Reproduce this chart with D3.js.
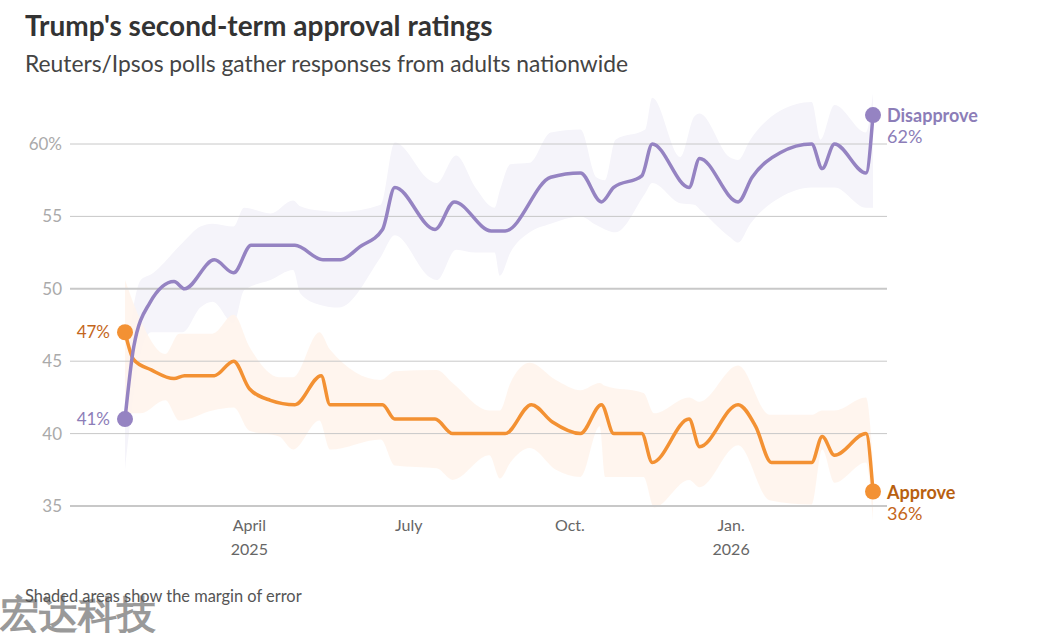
<!DOCTYPE html>
<html>
<head>
<meta charset="utf-8">
<script src="https://cdn.jsdelivr.net/npm/d3@7"></script>
<style>
  body { margin: 0; background: #fff; }
  text { font-family: Lato, "Open Sans", sans-serif; }
</style>
</head>
<body>
<svg id="chart" width="1042" height="633"></svg>
<script>
// Poll values (smoothed line points)
var disapproveDates = ["2025-01-20","2025-01-25","2025-02-03","2025-02-17","2025-02-23","2025-03-12","2025-03-23","2025-04-02","2025-04-27","2025-05-13","2025-05-23","2025-06-03","2025-06-16","2025-06-23","2025-07-16","2025-07-27","2025-08-17","2025-08-25","2025-09-20","2025-10-07","2025-10-19","2025-10-26","2025-11-11","2025-11-17","2025-12-08","2025-12-14","2026-01-05","2026-01-13","2026-01-29","2026-02-16","2026-02-22","2026-03-01","2026-03-19","2026-03-23"];
var disapproveValues = [41,46,49,50.5,50,52,51.1,53,53,52,52,52.9,54.1,57,54.1,56,54,54,57.7,58,56,57,57.8,60,57,59,56,57.7,59.4,60,58.3,60,58,62];

var approveDates = ["2025-01-20","2025-01-25","2025-02-04","2025-02-17","2025-02-23","2025-03-12","2025-03-23","2025-04-01","2025-04-13","2025-04-27","2025-05-12","2025-05-17","2025-06-16","2025-06-23","2025-07-16","2025-07-26","2025-08-25","2025-09-09","2025-09-21","2025-10-07","2025-10-19","2025-10-26","2025-11-11","2025-11-17","2025-12-08","2025-12-14","2026-01-05","2026-01-15","2026-01-24","2026-02-16","2026-02-22","2026-03-01","2026-03-19","2026-03-23"];
var approveValues = [47,45.1,44.4,43.8,44,44,45,43.1,42.3,42,44,42,42,41,41,40,40,42,40.8,40,42,40,40,38,41,39.1,42,40.5,38,38,39.8,38.5,40,36];

// Margin of error bands
var disBandDates = ["2025-01-20","2025-01-29","2025-02-04","2025-02-22","2025-03-04","2025-03-11","2025-03-23","2025-03-29","2025-04-13","2025-04-26","2025-04-30","2025-05-11","2025-05-22","2025-06-15","2025-06-23","2025-07-13","2025-07-17","2025-07-28","2025-08-08","2025-08-19","2025-08-22","2025-08-28","2025-09-08","2025-09-20","2025-10-07","2025-10-16","2025-10-21","2025-10-27","2025-11-13","2025-11-17","2025-12-03","2025-12-11","2025-12-14","2025-12-31","2026-01-05","2026-01-12","2026-01-29","2026-02-16","2026-02-21","2026-03-01","2026-03-19","2026-03-23"];
var disBandLow  = [37.5,45.5,47.0,47.0,48.7,49.1,47.6,49.9,50.6,51.3,49.7,48.9,48.7,52.2,53.7,50.8,50.6,52.7,52.5,52.5,50.9,52.5,53.9,54.5,55.0,54.4,54.1,53.9,56.6,57.3,55.9,55.8,55.5,53.6,53.2,54.5,56.3,57.0,57.0,57.0,55.6,55.6];
var disBandHigh = [44.5,50.6,51.0,53.2,54.3,54.5,54.3,55.6,55.2,56.1,55.7,55.4,55.3,55.8,60.1,57.5,57.3,59.2,57.0,55.6,56.8,58.6,58.7,60.8,61.0,57.7,57.5,60.3,61.0,63.2,59.1,61.9,62.1,59.1,58.9,60.3,62.3,62.9,60.3,62.7,60.8,63.5];

var appBandDates = ["2025-01-20","2025-01-29","2025-02-12","2025-02-20","2025-03-11","2025-03-23","2025-04-01","2025-04-18","2025-04-26","2025-05-11","2025-05-17","2025-06-15","2025-06-23","2025-07-17","2025-07-26","2025-08-16","2025-08-22","2025-08-28","2025-09-08","2025-09-23","2025-10-07","2025-10-18","2025-10-21","2025-11-12","2025-11-18","2025-12-08","2025-12-14","2026-01-05","2026-01-23","2026-02-16","2026-02-22","2026-03-01","2026-03-19","2026-03-23"];
var appBandLow  = [41.4,41.4,42.3,40.9,41.6,41.8,40.2,39.8,38.9,40.9,38.9,39.6,37.8,37.6,36.8,38.5,36.9,38.0,39.0,37.5,37.0,40.5,37.0,37.0,34.9,36.8,36.3,39.2,35.4,35.1,38.9,36.6,38.0,34.0];
var appBandHigh = [50.6,47.8,45.5,46.9,46.9,48.2,46.0,43.9,43.9,47.0,45.8,43.7,44.3,44.4,43.5,41.6,41.6,43.5,44.9,43.7,43.0,43.5,43.3,42.8,41.4,42.5,42.2,44.7,41.3,41.3,41.6,41.6,42.5,38.0];

var yTicks = [35, 40, 45, 50, 55, 60];
var xTicks = [["2025-04-01","April","2025"],["2025-07-01","July",""],["2025-10-01","Oct.",""],["2026-01-01","Jan.","2026"]];

var parse = d3.timeParse("%Y-%m-%d");
var purple = "#9583c2", orange = "#f39133";

var svg = d3.select("#chart");

var x = d3.scaleTime()
    .domain([parse("2025-01-20"), parse("2026-03-23")])
    .range([125, 873]);
var y = d3.scaleLinear()
    .domain([35, 60])
    .range([506, 144]);

function zip(dates, vals) {
    return dates.map(function(d, i) { return { date: parse(d), v: vals[i] }; });
}
function zipBand(dates, lo, hi) {
    return dates.map(function(d, i) { return { date: parse(d), lo: lo[i], hi: hi[i] }; });
}

var dis = zip(disapproveDates, disapproveValues);
var app = zip(approveDates, approveValues);
var disBand = zipBand(disBandDates, disBandLow, disBandHigh);
var appBand = zipBand(appBandDates, appBandLow, appBandHigh);

// Titles
svg.append("text").attr("x", 25).attr("y", 36)
    .attr("font-size", 28).attr("font-weight", 700).attr("fill", "#333")
    .text("Trump's second-term approval ratings");
svg.append("text").attr("x", 25).attr("y", 72)
    .attr("font-size", 22.8).attr("fill", "#444")
    .text("Reuters/Ipsos polls gather responses from adults nationwide");

// Bands
var band = d3.area()
    .x(function(d) { return x(d.date); })
    .y0(function(d) { return y(d.lo); })
    .y1(function(d) { return y(d.hi); })
    .curve(d3.curveMonotoneX);

svg.append("path").datum(disBand).attr("d", band).attr("fill", "#f5f4fa");
svg.append("path").datum(appBand).attr("d", band).attr("fill", "#fff4ec").attr("opacity", 0.9);

// Grid
var grid = svg.append("g");
grid.selectAll("line").data(yTicks).enter().append("line")
    .attr("x1", 70).attr("x2", 887)
    .attr("y1", function(d) { return y(d); })
    .attr("y2", function(d) { return y(d); })
    .attr("stroke", "#c8c8c8")
    .attr("stroke-width", function(d) { return (d === 50 || d === 35) ? 2 : 1; });

grid.selectAll("text").data(yTicks).enter().append("text")
    .attr("x", 62).attr("y", function(d) { return y(d) + 6; })
    .attr("text-anchor", "end").attr("font-size", 17).attr("fill", "#aaa")
    .text(function(d) { return d === 60 ? d + "%" : d; });

// X axis labels
var xl = svg.append("g").selectAll("g").data(xTicks).enter().append("g")
    .attr("transform", function(d) { return "translate(" + x(parse(d[0])) + ",0)"; });
xl.append("text").attr("y", 531).attr("text-anchor", "middle")
    .attr("font-size", 16).attr("fill", "#666").text(function(d) { return d[1]; });
xl.append("text").attr("y", 555).attr("text-anchor", "middle")
    .attr("font-size", 16).attr("fill", "#666").text(function(d) { return d[2]; });

// Lines
var line = d3.line()
    .x(function(d) { return x(d.date); })
    .y(function(d) { return y(d.v); })
    .curve(d3.curveMonotoneX);

svg.append("path").datum(app).attr("d", line)
    .attr("fill", "none").attr("stroke", orange).attr("stroke-width", 3.5)
    .attr("stroke-linejoin", "round");
svg.append("path").datum(dis).attr("d", line)
    .attr("fill", "none").attr("stroke", purple).attr("stroke-width", 3.5)
    .attr("stroke-linejoin", "round");

// End dots
[[app, orange], [dis, purple]].forEach(function(s) {
    var pts = [s[0][0], s[0][s[0].length - 1]];
    svg.selectAll(null).data(pts).enter().append("circle")
        .attr("cx", function(d) { return x(d.date); })
        .attr("cy", function(d) { return y(d.v); })
        .attr("r", 8).attr("fill", s[1]);
});

// Start labels
svg.append("text").attr("x", 110).attr("y", y(app[0].v) + 6)
    .attr("text-anchor", "end").attr("font-size", 17).attr("fill", "#c4661b")
    .text(app[0].v + "%");
svg.append("text").attr("x", 110).attr("y", y(dis[0].v) + 6)
    .attr("text-anchor", "end").attr("font-size", 17).attr("fill", "#8c7db8")
    .text(dis[0].v + "%");

// End labels
var dl = dis[dis.length - 1], al = app[app.length - 1];
svg.append("text").attr("x", 887).attr("y", y(dl.v) + 7)
    .attr("font-size", 18).attr("font-weight", 700).attr("fill", "#8c7db8")
    .text("Disapprove");
svg.append("text").attr("x", 887).attr("y", y(dl.v) + 28)
    .attr("font-size", 18).attr("fill", "#8c7db8")
    .text(dl.v + "%");
svg.append("text").attr("x", 887).attr("y", y(al.v) + 7)
    .attr("font-size", 18).attr("font-weight", 700).attr("fill", "#b8600f")
    .text("Approve");
svg.append("text").attr("x", 887).attr("y", y(al.v) + 28)
    .attr("font-size", 18).attr("fill", "#c4661b")
    .text(al.v + "%");

// Footer (watermark overlaps the note, as in the source image)
svg.append("text").attr("x", 0).attr("y", 628)
    .attr("font-family", "'Noto Sans CJK SC'").attr("font-size", 39).attr("font-weight", 900)
    .attr("fill", "#8f8f8f").attr("opacity", 0.9)
    .text("宏达科技");
svg.append("text").attr("x", 25).attr("y", 602)
    .attr("font-size", 16.4).attr("fill", "#555")
    .text("Shaded areas show the margin of error");
</script>
</body>
</html>
